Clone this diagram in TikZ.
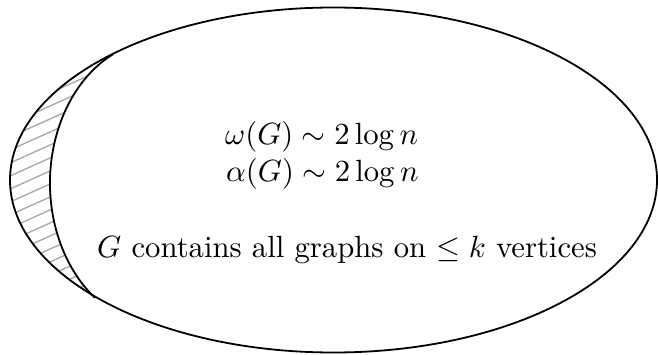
\documentclass[tikz,border=0pt]{standalone}
\usepackage{amsmath}
\begin{document}
\begin{tikzpicture}[x=1pt,y=1pt,
  outline/.style={line width=1.8pt,black},
  hatchline/.style={line width=1.3pt,gray!70},
  label/.style={anchor=base west,inner sep=0pt}]
\useasboundingbox (0,0) rectangle (658,354);
% hatched crescent
\begin{scope}
  \clip (112.9,300.2) arc[start angle=133,end angle=222.8,x radius=323.5,y radius=172.5]
        -- (95.0,56.2) arc[start angle=233.4,end angle=115.8,x radius=111.4,y radius=143] -- cycle;
  \foreach \i in {-6,...,26}
    \draw[hatchline] (-10,\i*13) -- ++(160,72);
\end{scope}
% inner boundary arc
\draw[outline] (112.9,299.7) arc[start angle=115.8,end angle=233.4,x radius=111.4,y radius=143];
% big ellipse
\draw[outline] (333.5,174) ellipse[x radius=323.5,y radius=172.5];
\node[label] (w) at (225,209) {\scalebox{3.07}{$\omega(G)\sim 2\log n$}};
\node[label] (a) at (226,172) {\scalebox{3.07}{$\alpha(G)\sim 2\log n$}};
\node[label] (c) at (97,97) {\scalebox{3.07}{$G$ contains all graphs on $\leq k$ vertices}};
\end{tikzpicture}
\end{document}
